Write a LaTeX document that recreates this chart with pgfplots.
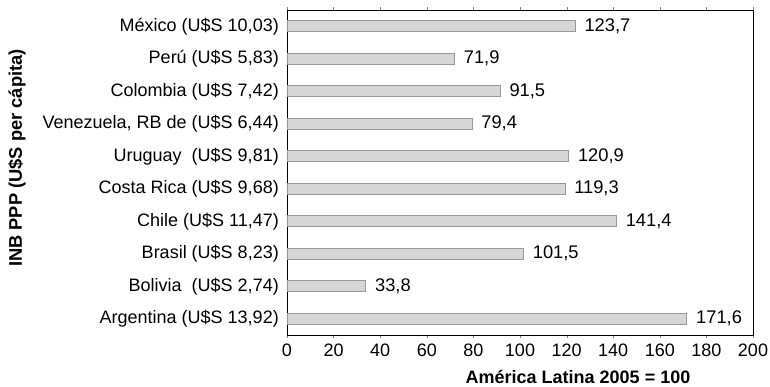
\documentclass[border=0pt]{standalone}
\usepackage{fontspec}
\setmainfont{Liberation Sans}
\usepackage{pgfplots}
\pgfplotsset{compat=1.18}
\begin{document}
\fontsize{18}{21}\selectfont
\begin{tikzpicture}
\path[use as bounding box] (-287pt,-52pt) rectangle (483pt,335pt);
\begin{axis}[
  at={(0,0)}, anchor=south west,
  scale only axis, width=466pt, height=325pt,
  xbar, bar width=11pt,
  xmin=0, xmax=200, ymin=-0.5, ymax=9.5,
  xtick={0,20,...,200},
  ytick={0,...,9},
  yticklabels={{Argentina (U\$S 13,92)}, {Bolivia\ \ (U\$S 2,74)}, {Brasil (U\$S 8,23)}, {Chile (U\$S 11,47)}, {Costa Rica (U\$S 9,68)}, {Uruguay\ \ (U\$S 9,81)}, {Venezuela, RB de (U\$S 6,44)}, {Colombia (U\$S 7,42)}, {Perú (U\$S 5,83)}, {México (U\$S 10,03)}},
  minor ytick={-0.5,0.5,...,9.5},
  ytick style={draw=none},
  minor y tick style={black},
  minor tick length=4pt,
  major tick length=3pt,
  tick align=outside,
  axis line style={black, line width=0.8pt},
  ticklabel style={font=\fontsize{18}{21}\selectfont},
  yticklabel style={xshift=1pt},
  /pgf/number format/assume math mode=true,
  point meta=explicit symbolic,
  nodes near coords,
  nodes near coords style={anchor=west, xshift=3pt, font=\fontsize{18.3}{21}\selectfont, text=black},
]
\addplot[fill=black!16, draw=black!40, line width=0.7pt] coordinates {
  (171.6,0) [171,6]
  (33.8,1) [33,8]
  (101.5,2) [101,5]
  (141.4,3) [141,4]
  (119.3,4) [119,3]
  (120.9,5) [120,9]
  (79.4,6) [79,4]
  (91.5,7) [91,5]
  (71.9,8) [71,9]
  (123.7,9) [123,7]
};
\end{axis}
\node[rotate=90, font=\bfseries\fontsize{18.3}{21}\selectfont] at (-270pt,177pt) {INB PPP (U\$S per cápita)};
\node[font=\bfseries\fontsize{18}{21}\selectfont] at (291pt,-42pt) {América Latina 2005 = 100};
\end{tikzpicture}
\end{document}
